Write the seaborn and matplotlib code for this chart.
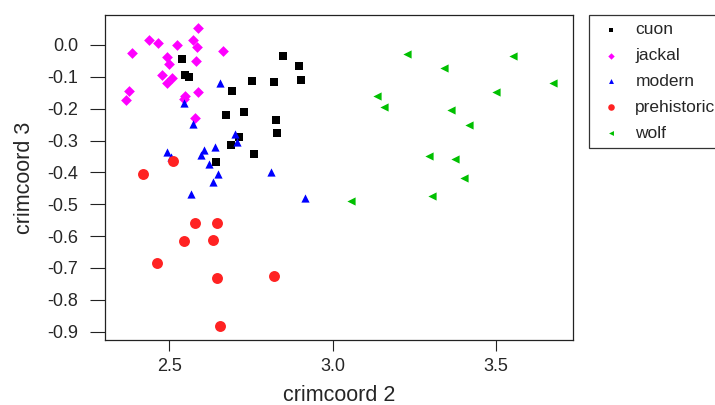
import matplotlib
matplotlib.use("Agg")
import matplotlib.pyplot as plt
import seaborn as sns
import pandas as pd

# ---- data ----
cuon_x = [2.538, 2.548, 2.560, 2.849, 2.896, 2.903, 2.752, 2.820, 2.693, 2.675,
          2.729, 2.827, 2.830, 2.714, 2.689, 2.761, 2.642]
cuon_y = [-0.045, -0.095, -0.101, -0.035, -0.066, -0.110, -0.112, -0.115, -0.145, -0.221,
          -0.210, -0.236, -0.276, -0.290, -0.314, -0.341, -0.368]

jackal_x = [2.588, 2.438, 2.465, 2.525, 2.572, 2.585, 2.666, 2.387, 2.493, 2.500,
            2.582, 2.478, 2.509, 2.494, 2.378, 2.369, 2.588, 2.550, 2.546, 2.580]
jackal_y = [0.052, 0.016, 0.005, -0.001, 0.016, -0.008, -0.018, -0.024, -0.038, -0.059,
            -0.051, -0.095, -0.104, -0.118, -0.145, -0.173, -0.149, -0.159, -0.170, -0.228]

modern_x = [2.657, 2.545, 2.573, 2.702, 2.708, 2.639, 2.607, 2.598, 2.494, 2.505,
            2.623, 2.651, 2.635, 2.812, 2.566, 2.915]
modern_y = [-0.118, -0.181, -0.248, -0.278, -0.306, -0.321, -0.329, -0.345, -0.336, -0.353,
            -0.373, -0.406, -0.430, -0.400, -0.467, -0.481]

prehist_x = [2.512, 2.420, 2.580, 2.646, 2.547, 2.635, 2.462, 2.645, 2.820, 2.657]
prehist_y = [-0.364, -0.405, -0.560, -0.560, -0.616, -0.612, -0.684, -0.731, -0.724, -0.882]

wolf_x = [3.227, 3.551, 3.340, 3.673, 3.501, 3.136, 3.158, 3.362, 3.417, 3.294,
          3.375, 3.403, 3.303, 3.057]
wolf_y = [-0.028, -0.035, -0.072, -0.119, -0.147, -0.160, -0.194, -0.203, -0.251, -0.349,
          -0.358, -0.419, -0.473, -0.489]

groups = ["cuon", "jackal", "modern", "prehistoric", "wolf"]
xs = [cuon_x, jackal_x, modern_x, prehist_x, wolf_x]
ys = [cuon_y, jackal_y, modern_y, prehist_y, wolf_y]

x_ticks = [2.5, 3.0, 3.5]
y_ticks = [0.0, -0.1, -0.2, -0.3, -0.4, -0.5, -0.6, -0.7, -0.8, -0.9]

rows = []
for g, gx, gy in zip(groups, xs, ys):
    for a, b in zip(gx, gy):
        rows.append({"crimcoord 2": a, "crimcoord 3": b, "group": g})
df = pd.DataFrame(rows)

palette = {"cuon": "#000000", "jackal": "#FF00FF", "modern": "#0000FF",
           "prehistoric": "#FF2222", "wolf": "#00C000"}
markers = {"cuon": "s", "jackal": "D", "modern": "^", "prehistoric": "o", "wolf": "<"}
sizes = {"cuon": 30, "jackal": 30, "modern": 35, "prehistoric": 62, "wolf": 35}

sns.set_style("white")
plt.rcParams["font.family"] = ["Liberation Sans", "DejaVu Sans"]

fig = plt.figure(figsize=(7.15, 4.05), dpi=100)
ax = fig.add_axes([105/715, 1-340/405, (573-105)/715, (340-15)/405])

for g in groups:
    sub = df[df["group"] == g]
    sns.scatterplot(data=sub, x="crimcoord 2", y="crimcoord 3", color=palette[g],
                    marker=markers[g], s=sizes[g], linewidth=0, ax=ax, label=g)

ax.set_xlim(2.304, 3.735)
ax.set_ylim(-0.926, 0.094)
ax.set_xticks(x_ticks)
ax.set_xticklabels([f"{t:.1f}" for t in x_ticks])
ax.set_yticks(y_ticks)
ax.set_yticklabels([f"{t:.1f}" for t in y_ticks])
ax.tick_params(axis="x", which="major", direction="out", length=7.9, width=0.8,
               color="#222222", labelsize=13, pad=5, bottom=True)
ax.tick_params(axis="y", which="major", direction="out", length=10.8, width=0.8,
               color="#222222", labelsize=13, pad=8.4, left=True)
for sp in ax.spines.values():
    sp.set_color("#222222")
    sp.set_linewidth(0.9)
ax.set_xlabel("crimcoord 2", fontsize=15.5, labelpad=7)
ax.set_ylabel("crimcoord 3", fontsize=15.5, labelpad=9)

leg = ax.legend(loc="upper left", bbox_to_anchor=(589/715, 1-14.7/405),
                bbox_transform=fig.transFigure, borderaxespad=0, fontsize=12.5,
                frameon=True, fancybox=False, markerscale=0.6, labelspacing=0.62,
                borderpad=0.42, handlelength=1.7, handletextpad=0.55)
leg.get_frame().set_edgecolor("#000000")
leg.get_frame().set_linewidth(0.9)

fig.savefig("out.png", dpi=100)
